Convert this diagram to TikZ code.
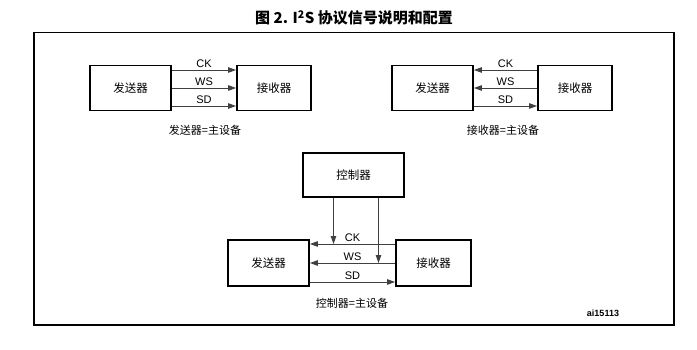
\documentclass[tikz,border=0pt]{standalone}
\usepackage{fontspec}
\setmainfont{Liberation Sans}
\newfontfamily\cjk{Noto Sans CJK SC}
\usetikzlibrary{arrows.meta}

\begin{document}
\begin{tikzpicture}[>={Triangle[length=8pt,width=5.5pt]},
    x=1pt, y=-1pt,
    caja/.style={draw, line width=1.8pt, inner sep=0pt, minimum height=45pt,
      font=\cjk\fontsize{11.5}{13}\selectfont},
    senal/.style={draw=black!75, line width=0.9pt},
    etq/.style={font=\fontsize{11}{13}\selectfont, inner sep=1.5pt},
    pie/.style={font=\cjk\fontsize{11}{13}\selectfont}]
  \useasboundingbox (0,0) rectangle (697,349);
  % Titulo
  \node (titulo) at (354,18)
    {\cjk\bfseries\fontsize{15}{17}\selectfont 图 2. I\textsuperscript{2}S 协议信号说明和配置};
  % Marco
  \draw[line width=1.3pt] (34,32.5) rectangle (674,325);

  % Emisor maestro
  \node[caja, minimum width=81pt] (tx1) at (130.5,88) {发送器};
  \node[caja, minimum width=74pt] (rx1) at (274,88) {接收器};
  \draw[senal,->] ([yshift=18pt]tx1.east) -- ([yshift=18pt]rx1.west)
        node[midway,above,etq]{CK};
  \draw[senal,->] (tx1.east) -- (rx1.west)
        node[midway,above,etq]{WS};
  \draw[senal,->] ([yshift=-18pt]tx1.east) -- ([yshift=-18pt]rx1.west)
        node[midway,above,etq]{SD};
  \node[pie] (pie1) at (205,130) {发送器=主设备};

  % Receptor maestro
  \node[caja, minimum width=81pt] (tx2) at (432.5,88) {发送器};
  \node[caja, minimum width=74pt] (rx2) at (575,88) {接收器};
  \draw[senal,->] ([yshift=18pt]rx2.west) -- ([yshift=18pt]tx2.east)
        node[midway,above,etq]{CK};
  \draw[senal,->] (rx2.west) -- (tx2.east)
        node[midway,above,etq]{WS};
  \draw[senal,->] ([yshift=-18pt]tx2.east) -- ([yshift=-18pt]rx2.west)
        node[midway,above,etq]{SD};
  \node[pie] (pie2) at (503,130) {接收器=主设备};

  % Controlador maestro
  \node[caja, minimum width=101pt, minimum height=44pt] (ctl) at (353.5,174.7) {控制器};
  \node[caja, minimum width=81pt, minimum height=46pt] (tx3) at (268.5,263) {发送器};
  \node[caja, minimum width=75pt, minimum height=46pt] (rx3) at (433.5,263) {接收器};
  \draw[senal,->] ([yshift=19pt]rx3.west) -- ([yshift=19pt]tx3.east) coordinate (ck3)
        node[midway,above,etq]{CK};
  \draw[senal,->] (rx3.west) -- (tx3.east) coordinate (ws3)
        node[midway,above,etq]{WS};
  \draw[senal,->] ([yshift=-19pt]tx3.east) -- ([yshift=-19pt]rx3.west)
        node[midway,above,etq]{SD};
  \draw[senal,->] ([xshift=-20pt]ctl.south) -- ([xshift=-20pt]ctl.south |- ck3);
  \draw[senal,->] ([xshift=25pt]ctl.south) -- ([xshift=25pt]ctl.south |- ws3);
  \node[pie] (pie3) at (352,303) {控制器=主设备};

  % Referencia
  \node[font=\bfseries\fontsize{9}{11}\selectfont] (ref) at (603,313) {ai15113};
\end{tikzpicture}
\end{document}
